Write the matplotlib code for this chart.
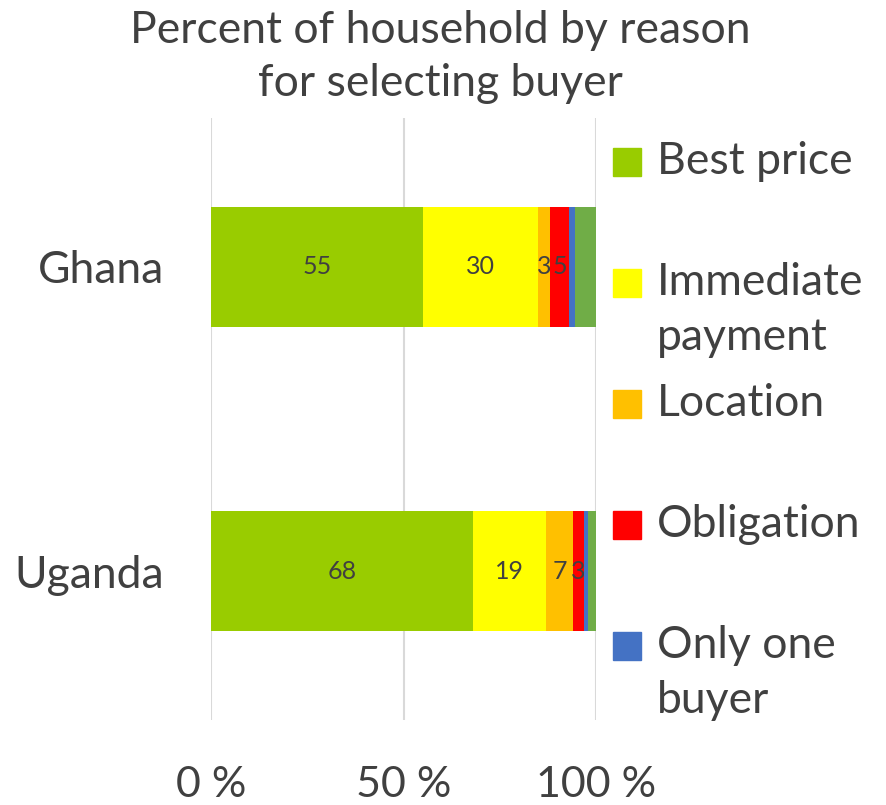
import matplotlib.pyplot as plt
from matplotlib.patches import Rectangle

countries = ["Ghana", "Uganda"]
reasons = ["Best price", "Immediate\npayment", "Location", "Obligation", "Only one\nbuyer", "Other"]
colors = ["#99cc00", "#ffff00", "#ffc000", "#ff0000", "#4472c4", "#70ad47"]
best_price = [55, 68]
immediate_payment = [30, 19]
location = [3, 7]
obligation = [5, 3]
only_one_buyer = [1.5, 1]
other = [5.5, 2]
series = [best_price, immediate_payment, location, obligation, only_one_buyer, other]
labelled = [True, True, True, True, False, False]

TXT = "#404040"
plt.rcParams["font.family"] = ["Lato", "DejaVu Sans"]

fig = plt.figure(figsize=(8.87, 8.05), dpi=100)
ax = fig.add_axes([211 / 887, 1 - 720 / 805, 385 / 887, 602 / 805])

ypos = [1, 0]
left = [0, 0]
for vals, col, lab in zip(series, colors, labelled):
    bars = ax.barh(ypos, vals, left=left, height=0.395, color=col, zorder=3)
    if lab:
        ax.bar_label(bars, labels=[f"{v:g}" for v in vals], label_type="center",
                     fontsize=18, color=TXT)
    left = [a + b for a, b in zip(left, vals)]

ax.set_xlim(0, 100)
ax.set_ylim(-0.49, 1.49)
ax.set_xticks([0, 50, 100])
ax.set_xticklabels(["0 %", "50 %", "100 %"])
ax.set_yticks(ypos)
ax.set_yticklabels(countries)
ax.tick_params(axis="x", length=0, pad=33, labelsize=31, labelcolor=TXT)
ax.tick_params(axis="y", length=0, pad=34, labelsize=32, labelcolor=TXT)
ax.grid(axis="x", color="#d9d9d9", linewidth=1.5, zorder=0)
for s in ax.spines.values():
    s.set_visible(False)

fig.text(440 / 887, 1 - 57 / 805, "Percent of household by reason\nfor selecting buyer",
         ha="center", va="center", fontsize=32, color=TXT, linespacing=1.37)

# legend drawn by hand (last series is not shown in the original legend)
for i, (name, col) in enumerate(zip(reasons[:5], colors[:5])):
    yc = 162 + i * 121
    fig.patches.append(Rectangle((613 / 887, 1 - (yc + 14) / 805), 28 / 887, 28 / 805,
                                 transform=fig.transFigure, color=col))
    fig.text(657 / 887, 1 - (yc - 21) / 805, name, ha="left", va="top",
             fontsize=32, color=TXT, linespacing=1.42)

fig.savefig("out.png", dpi=100)
